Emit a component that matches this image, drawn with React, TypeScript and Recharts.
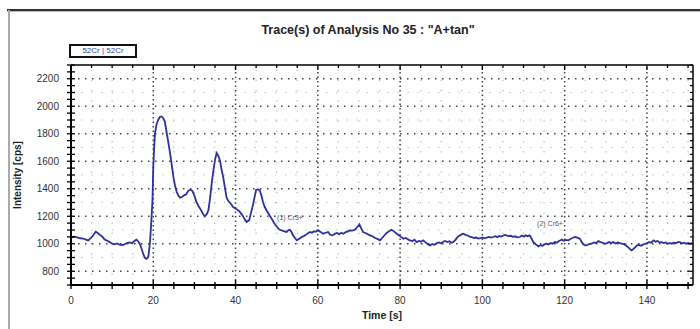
import React from 'react';
import { LineChart, Line, XAxis, YAxis, ReferenceLine, ReferenceDot } from 'recharts';

const timesS = [
  0, 0.8, 1.5, 2.2, 3, 3.6, 4.2, 4.8, 5.4, 6.0, 6.5, 7.0, 7.6, 8.2, 8.8, 9.4, 10.0, 10.6, 11.2, 11.8,
  12.4, 13.0, 13.6, 14.2, 14.8, 15.4, 15.9, 16.4, 16.8, 17.2, 17.6, 18.0, 18.4, 18.8, 19.2, 19.5, 19.8, 20.0, 20.2, 20.4,
  20.8, 21.2, 21.6, 22.0, 22.4, 22.8, 23.3, 23.7, 24.1, 24.5, 24.9, 25.3, 25.7, 26.1, 26.5, 27.0, 27.5, 28.0, 28.5, 29.0,
  29.5, 30.0, 30.5, 31.0, 31.5, 32.0, 32.5, 33.0, 33.4, 33.8, 34.2, 34.6, 35.0, 35.4, 35.8, 36.2, 36.6, 37.0, 37.4, 37.8,
  38.2, 38.6, 39.0, 39.4, 39.8, 40.3, 40.7, 41.1, 41.6, 42.0, 42.4, 42.7, 43.0, 43.3, 43.8, 44.3, 44.7, 45.0, 45.5, 45.9,
  46.3, 46.7, 47.1, 47.6, 48.0, 48.4, 48.8, 49.2, 49.6, 50.0, 50.4, 50.9, 51.4, 51.9, 52.4, 52.8, 53.2, 53.6, 54.0, 54.5,
  54.9, 55.3, 55.7, 56.1, 56.5, 56.9, 57.3, 57.7, 58.1, 58.6, 59.0, 59.5, 60.1, 60.7, 61.3, 61.9, 62.5, 63.0, 63.6, 64.1,
  64.6, 65.2, 65.7, 66.2, 66.8, 67.3, 67.8, 68.4, 69.0, 69.5, 70.1, 70.5, 71.0, 71.6, 72.1, 72.7, 73.3, 74.0, 74.5, 75.1,
  75.6, 76.2, 76.7, 77.3, 77.9, 78.5, 79.2, 79.8, 80.3, 80.8, 81.4, 82.0, 82.4, 83.0, 83.5, 84.0, 84.6, 85.1, 85.6, 86.2,
  86.8, 87.3, 87.8, 88.4, 88.9, 89.5, 90.0, 90.5, 90.9, 91.5, 92.0, 92.5, 92.9, 93.5, 94.0, 94.5, 95.0, 95.4, 95.9, 96.4,
  96.9, 97.4, 97.9, 98.5, 99.0, 99.5, 100.0, 100.5, 101.0, 101.6, 102.1, 102.6, 103.1, 103.6, 104.1, 104.6, 105.1, 105.5, 105.9, 106.4,
  106.9, 107.4, 107.9, 108.5, 109.1, 109.6, 110.1, 110.5, 111.0, 111.5, 111.9, 112.4, 113.0, 113.6, 114.1, 114.6, 115.1, 115.6, 116.1, 116.6,
  117.1, 117.6, 118.1, 118.6, 119.0, 119.3, 119.8, 120.3, 120.9, 121.4, 121.9, 122.5, 123.1, 123.7, 124.2, 124.6, 124.9, 125.4, 126.0, 126.6,
  127.1, 127.6, 128.2, 128.7, 129.2, 129.8, 130.3, 130.8, 131.3, 131.8, 132.4, 132.9, 133.4, 134.0, 134.5, 135.0, 135.6, 136.0, 136.3, 136.8,
  137.2, 137.6, 138.1, 138.6, 139.1, 139.6, 140.0, 140.5, 141.0, 141.6, 142.1, 142.6, 143.1, 143.6, 144.1, 144.6, 145.1, 145.6, 146.0, 146.5,
  147.0, 147.5, 148.0, 148.5, 149.0, 149.5, 150.0, 150.5, 151.0,
];

const intensityCps = [
  1045, 1052, 1046, 1040, 1038, 1030, 1024, 1040, 1062, 1088, 1078, 1065, 1052, 1030, 1022, 1012, 1000, 996, 1002, 994,
  990, 996, 1005, 1010, 1004, 1020, 1030, 1015, 995, 960, 922, 896, 890, 905, 1010, 1150, 1315, 1557, 1690, 1800,
  1870, 1900, 1922, 1926, 1915, 1890, 1800, 1730, 1655, 1570, 1485, 1420, 1376, 1350, 1335, 1340, 1352, 1360, 1385, 1393,
  1385, 1350, 1303, 1275, 1250, 1222, 1199, 1215, 1243, 1330, 1437, 1530, 1610, 1659, 1640, 1606, 1540, 1485, 1410, 1339,
  1312, 1300, 1285, 1267, 1260, 1250, 1242, 1230, 1210, 1190, 1170, 1158, 1165, 1170, 1230, 1291, 1350, 1393, 1395, 1388,
  1350, 1300, 1267, 1240, 1220, 1200, 1182, 1160, 1140, 1125, 1110, 1100, 1095, 1090, 1085, 1098, 1102, 1085, 1060, 1040,
  1025, 1032, 1040, 1050, 1053, 1062, 1070, 1078, 1085, 1080, 1090, 1088, 1097, 1085, 1073, 1080, 1085, 1065, 1061, 1072,
  1078, 1070, 1080, 1073, 1085, 1090, 1097, 1095, 1102, 1118, 1141, 1115, 1085, 1078, 1070, 1061, 1055, 1040, 1035, 1025,
  1040, 1062, 1078, 1090, 1102, 1090, 1073, 1060, 1048, 1037, 1042, 1030, 1025, 1020, 1030, 1012, 1020, 1015, 1025, 1010,
  995, 988, 998, 992, 1005, 1010, 1002, 1015, 1020, 1012, 1018, 1008, 1012, 1030, 1050, 1060, 1068, 1073, 1065, 1060,
  1052, 1049, 1042, 1045, 1037, 1040, 1046, 1040, 1044, 1050, 1045, 1049, 1055, 1048, 1056, 1052, 1060, 1064, 1061, 1055,
  1058, 1050, 1054, 1046, 1049, 1060, 1052, 1062, 1055, 1061, 1040, 1012, 995, 981, 990, 985, 995, 1000, 995, 1005,
  1000, 1012, 1008, 1020, 1025, 1030, 1022, 1028, 1025, 1035, 1042, 1049, 1044, 1037, 1010, 995, 988, 990, 998, 1000,
  1010, 1005, 1020, 1012, 1008, 1000, 1005, 1012, 1005, 1012, 1002, 1010, 1004, 1000, 995, 985, 970, 958, 952, 965,
  975, 988, 992, 985, 995, 1000, 1005, 1012, 1008, 1025, 1015, 1020, 1010, 1012, 1005, 1010, 1000, 1006, 1000, 1008,
  1004, 1012, 1012, 1002, 1008, 1000, 1006, 1000, 1004,
];

const xLabelTicks = [0, 20, 40, 60, 80, 100, 120, 140];
const xMinorTicks = [
  0, 5, 10, 15, 20, 25, 30, 35, 40, 45, 50, 55, 60, 65, 70, 75, 80, 85, 90, 95, 100, 105, 110, 115, 120, 125, 130, 135, 140, 145, 150,
];
const yLabelTicks = [800, 1000, 1200, 1400, 1600, 1800, 2000, 2200];
const yMinorTicks = [
  700, 750, 800, 850, 900, 950, 1000, 1050, 1100, 1150, 1200, 1250, 1300, 1350, 1400, 1450, 1500, 1550, 1600, 1650,
  1700, 1750, 1800, 1850, 1900, 1950, 2000, 2050, 2100, 2150, 2200, 2250, 2300,
];
const yHalfGrid = [900, 1100, 1300, 1500, 1700, 1900, 2100];

const annotationTimes = [50.1, 113.3];
const annotationLevels = [1192, 1148];
const annotationTexts = ['(1) Cr3+', '(2) Cr6+'];

const chartData = timesS.map((t, i) => ({ t, v: intensityCps[i] }));

const FONT = '"Liberation Sans", Arial, sans-serif';
const TICK_COLOR = '#000';

const LeftTick = (props: any) => {
  const { x, y, payload } = props;
  const major = yLabelTicks.includes(payload.value);
  return (
    <g>
      <line x1={x - 4} x2={x + 4} y1={y} y2={y} stroke={TICK_COLOR} strokeWidth={1.3} />
      {major && (
        <text x={x - 12} y={y} dy={3.6} textAnchor="end" fontSize={10} fill="#333" fontFamily={FONT}>
          {payload.value}
        </text>
      )}
    </g>
  );
};

const RightTick = (props: any) => {
  const { x, y, payload } = props;
  const major = yLabelTicks.includes(payload.value);
  return <line x1={x - (major ? 5 : 3)} x2={x} y1={y} y2={y} stroke={TICK_COLOR} strokeWidth={1.2} />;
};

const BottomTick = (props: any) => {
  const { x, y, payload } = props;
  const major = xLabelTicks.includes(payload.value);
  return (
    <g>
      <line x1={x} x2={x} y1={y - (major ? 5 : 3)} y2={y + 4} stroke={TICK_COLOR} strokeWidth={1.4} />
      {major && (
        <text x={x} y={y + 18.5} textAnchor="middle" fontSize={10} fill="#333" fontFamily={FONT}>
          {payload.value}
        </text>
      )}
    </g>
  );
};

const TopTick = (props: any) => {
  const { x, y, payload } = props;
  const major = xLabelTicks.includes(payload.value);
  return <line x1={x} x2={x} y1={y} y2={y + (major ? 5 : 3)} stroke={TICK_COLOR} strokeWidth={1.3} />;
};

export default function App() {
  return (
    <div
      style={{
        position: 'absolute',
        left: 0,
        top: 0,
        width: 700,
        height: 329,
        background: '#fff',
        fontFamily: FONT,
        overflow: 'hidden',
      }}
    >
      <div style={{ position: 'absolute', left: 7, top: 9, width: 693, height: 2, background: '#333' }} />
      <div style={{ position: 'absolute', left: 7, top: 11, width: 693, height: 1, background: '#bbb' }} />
      <div style={{ position: 'absolute', left: 8, top: 10, width: 1.5, height: 319, background: '#aaa' }} />
      <div
        style={{
          position: 'absolute',
          left: 0,
          width: 736,
          top: 23,
          textAlign: 'center',
          fontFamily: '"Liberation Sans Narrow", "Arial Narrow", "Liberation Sans", Arial, sans-serif',
          fontWeight: 'bold',
          fontSize: 12.5,
          lineHeight: '15px',
          color: '#222',
        }}
      >
        Trace(s) of Analysis No 35 : "A+tan"
      </div>
      <div
        style={{
          position: 'absolute',
          left: 69,
          top: 44,
          width: 68,
          height: 14,
          boxSizing: 'border-box',
          border: '2px solid #111',
          fontSize: 8,
          lineHeight: '10px',
          textAlign: 'center',
          color: '#3b3fa8',
        }}
      >
        52Cr | 52Cr
      </div>
      <div style={{ position: 'absolute', left: 0, top: 0 }}>
        <LineChart
          width={700}
          height={329}
          data={chartData}
          margin={{ top: 60, right: 2, bottom: 14, left: 11 }}
        >
          <XAxis
            dataKey="t"
            type="number"
            domain={[0, 151.2]}
            allowDataOverflow
            ticks={xMinorTicks}
            interval={0}
            tickSize={0}
            tickMargin={0}
            tickLine={false}
            tick={<BottomTick />}
            axisLine={{ stroke: '#000', strokeWidth: 2 }}
            height={30}
            label={{ value: 'Time [s]', position: 'bottom', offset: -3, fontSize: 10.5, fontWeight: 'bold', fill: '#222' }}
          />
          <XAxis
            xAxisId="top"
            orientation="top"
            dataKey="t"
            type="number"
            domain={[0, 151.2]}
            allowDataOverflow
            ticks={xMinorTicks}
            interval={0}
            tickSize={0}
            tickMargin={0}
            tickLine={false}
            tick={<TopTick />}
            axisLine={{ stroke: '#000', strokeWidth: 1.5 }}
            height={5}
          />
          <YAxis
            type="number"
            domain={[700, 2300]}
            allowDataOverflow
            ticks={yMinorTicks}
            interval={0}
            tickSize={0}
            tickMargin={0}
            tickLine={false}
            tick={<LeftTick />}
            axisLine={{ stroke: '#000', strokeWidth: 2 }}
            width={60}
            label={{
              value: 'Intensity [cps]',
              angle: -90,
              position: 'insideLeft',
              offset: 6,
              fontSize: 10,
              fontWeight: 'bold',
              fill: '#222',
              style: { textAnchor: 'middle' },
            }}
          />
          <YAxis
            yAxisId="right"
            orientation="right"
            type="number"
            domain={[700, 2300]}
            allowDataOverflow
            ticks={yMinorTicks}
            interval={0}
            tickSize={0}
            tickMargin={0}
            tickLine={false}
            tick={<RightTick />}
            axisLine={{ stroke: '#000', strokeWidth: 1.5 }}
            width={5}
          />
          {yHalfGrid.map((v) => (
            <ReferenceLine key={'hm' + v} y={v} stroke="#b5b5b5" strokeWidth={1.2} strokeDasharray="1.2 9" />
          ))}
          {xMinorTicks
            .filter((v) => !xLabelTicks.includes(v))
            .map((v) => (
              <ReferenceLine key={'vm' + v} x={v} stroke="#b5b5b5" strokeWidth={1.2} strokeDasharray="1.2 9" />
            ))}
          {yLabelTicks.map((v) => (
            <ReferenceLine key={'h' + v} y={v} stroke="#444" strokeWidth={1.5} strokeDasharray="1.5 5.5" />
          ))}
          {xLabelTicks
            .filter((v) => v > 0)
            .map((v) => (
              <ReferenceLine key={'v' + v} x={v} stroke="#444" strokeWidth={1.5} strokeDasharray="1.5 3" />
            ))}
          {annotationTimes.map((t, i) => (
            <ReferenceDot
              key={'a' + i}
              x={t}
              y={annotationLevels[i]}
              r={0}
              fill="none"
              stroke="none"
              label={{ value: annotationTexts[i], position: 'right', offset: 0, fontSize: 7, fill: '#555' }}
            />
          ))}
          <Line
            type="linear"
            dataKey="v"
            stroke="#2e309c"
            strokeWidth={1.8}
            dot={false}
            isAnimationActive={false}
          />
        </LineChart>
      </div>
    </div>
  );
}
